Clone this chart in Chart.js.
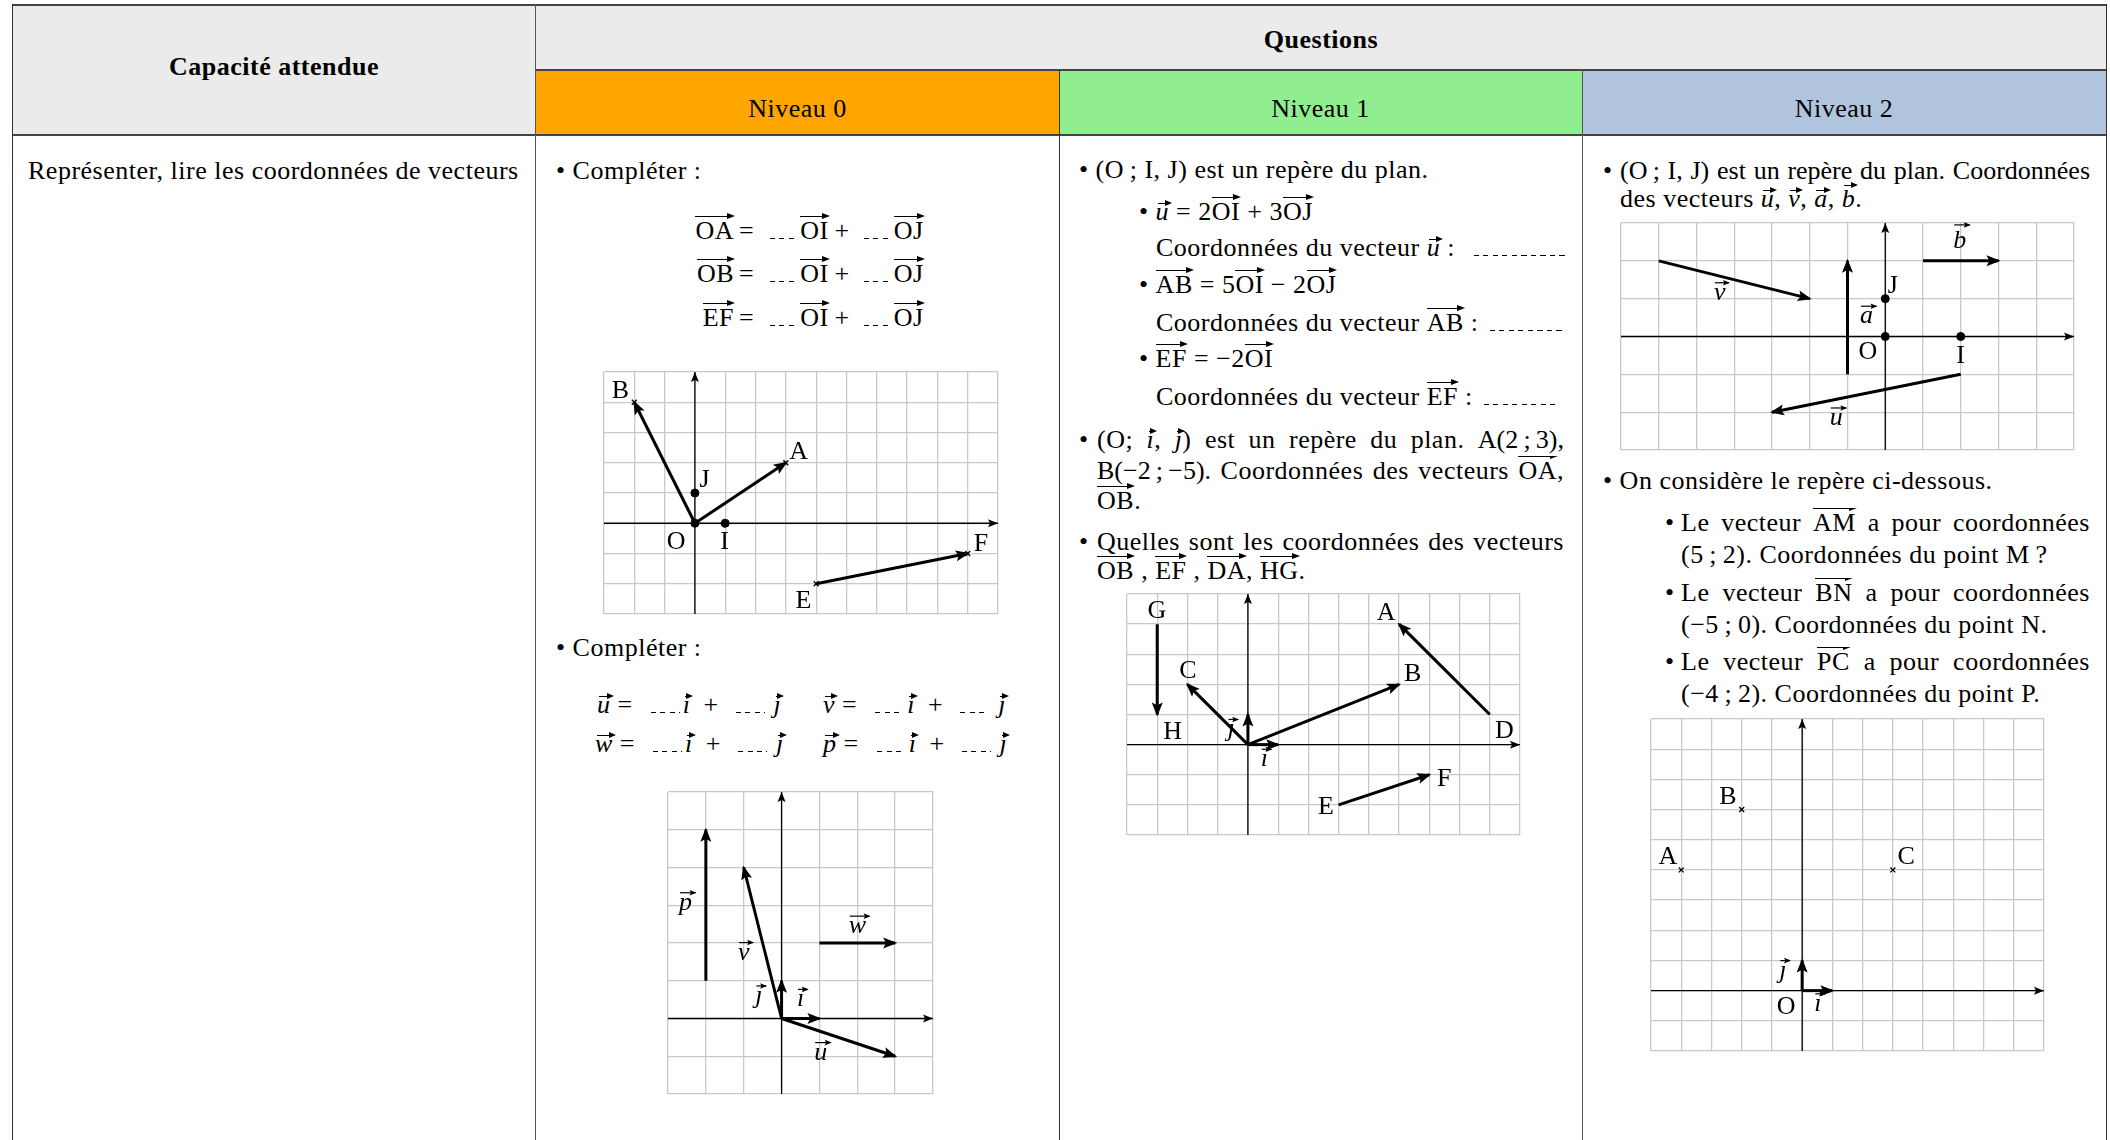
<!DOCTYPE html>
<html lang="fr">
<head>
<meta charset="utf-8">
<script src="https://cdn.jsdelivr.net/npm/chart.js@4.4.1/dist/chart.umd.min.js"></script>
<style>
body{margin:0;background:#fff;width:2110px;height:1140px;overflow:hidden;position:relative;font-family:"Liberation Serif",serif;font-size:26px;letter-spacing:0.5px;color:#000}
.box{position:absolute}
.ln{position:absolute;background:#444}
.t{position:absolute;white-space:nowrap;line-height:30px;height:30px}
.jus{text-align:justify;text-align-last:justify;white-space:normal;overflow:hidden}
.c{text-align:center}
.bold{font-weight:bold}
.nw{white-space:nowrap;letter-spacing:0}
.v{position:relative;display:inline-block;line-height:26px}
.v::before{content:"";position:absolute;left:0;right:2px;top:-2px;border-top:1.3px solid #000}
.v::after{content:"";position:absolute;right:-1px;top:-5px;border-left:8px solid #000;border-top:3.5px solid transparent;border-bottom:3.5px solid transparent}
.vl{position:relative;display:inline-block;line-height:26px;font-style:italic}
.vl::before{content:"";position:absolute;left:2px;right:0;top:4px;border-top:1.3px solid #000}
.vl::after{content:"";position:absolute;right:-3px;top:1px;border-left:7px solid #000;border-top:3px solid transparent;border-bottom:3px solid transparent}
.vl.tall::before{top:-1px}
.vl.tall::after{top:-4px}
.b{display:inline-block;height:1.3px;background:repeating-linear-gradient(90deg,#000 0 5px,transparent 5px 9.5px);vertical-align:0;margin:0 4px}
.eq .b{margin:0 2px 0 0}
.eq .eg{display:inline-block;margin:0 16px 0 5px}
.eq .pl{display:inline-block;margin:0 14px 0 6px}
.eq2 .b{margin:0 3px 0 0;width:29px}
.eq2 .b2{margin-right:9px}
.eq2 .eg{display:inline-block;margin:0 18px 0 7px}
.eq2 .pl{display:inline-block;margin:0 17px 0 13px}
.lhs{display:inline-block;width:42px;text-align:right}
canvas{position:absolute}
</style>
</head>
<body>

<!-- en-tete -->
<div class="box" style="left:12px;top:5px;width:524px;height:130px;background:#ebebeb"></div>
<div class="box" style="left:536px;top:5px;width:1570px;height:65px;background:#ebebeb"></div>
<div class="box" style="left:536px;top:70px;width:523px;height:65px;background:#ffa500"></div>
<div class="box" style="left:1059px;top:70px;width:523px;height:65px;background:#90ee90"></div>
<div class="box" style="left:1582px;top:70px;width:524px;height:65px;background:#b0c4de"></div>

<div class="ln" style="left:12px;top:4px;width:2095px;height:2px"></div>
<div class="ln" style="left:536px;top:69px;width:1570px;height:1.5px"></div>
<div class="ln" style="left:12px;top:134px;width:2095px;height:2px"></div>
<div class="ln" style="left:12px;top:4px;width:1px;height:1140px;background:#333"></div>
<div class="ln" style="left:535px;top:4px;width:1px;height:1140px;background:#555"></div>
<div class="ln" style="left:1059px;top:70px;width:1px;height:1070px;background:#333"></div>
<div class="ln" style="left:1582px;top:70px;width:1px;height:1070px;background:#555"></div>
<div class="ln" style="left:2106px;top:4px;width:1px;height:1140px;background:#333"></div>

<div class="t c bold" style="left:12px;width:524px;top:52px">Capacité attendue</div>
<div class="t c bold" style="left:536px;width:1570px;top:25px">Questions</div>
<div class="t c" style="left:536px;width:523px;top:94px">Niveau 0</div>
<div class="t c" style="left:1059px;width:523px;top:94px">Niveau 1</div>
<div class="t c" style="left:1582px;width:524px;top:94px">Niveau 2</div>

<!-- colonne 1 -->
<div class="t" style="left:28px;top:156px">Représenter, lire les coordonnées de vecteurs</div>

<!-- Niveau 0 -->
<div class="t" style="left:556px;top:156px">• Compléter :</div>
<div class="t eq" style="left:692px;top:216px"><span class="lhs"><span class="v">OA</span></span><span class="eg">=</span><span class="b" style="width:28px"></span><span class="v">OI</span><span class="pl">+</span><span class="b" style="width:28px"></span><span class="v">OJ</span></div>
<div class="t eq" style="left:692px;top:259px"><span class="lhs"><span class="v">OB</span></span><span class="eg">=</span><span class="b" style="width:28px"></span><span class="v">OI</span><span class="pl">+</span><span class="b" style="width:28px"></span><span class="v">OJ</span></div>
<div class="t eq" style="left:692px;top:303px"><span class="lhs"><span class="v">EF</span></span><span class="eg">=</span><span class="b" style="width:28px"></span><span class="v">OI</span><span class="pl">+</span><span class="b" style="width:28px"></span><span class="v">OJ</span></div>

<div class="t" style="left:556px;top:633px">• Compléter :</div>
<div class="t eq2" style="left:597px;top:690px"><span class="vl">u</span><span class="eg">=</span><span class="b"></span><span class="vl">ı</span><span class="pl">+</span><span class="b b2"></span><span class="vl">ȷ</span></div>
<div class="t eq2" style="left:823px;top:690px"><span class="vl">v</span><span class="eg">=</span><span class="b"></span><span class="vl">ı</span><span class="pl">+</span><span class="b b2"></span><span class="vl">ȷ</span></div>
<div class="t eq2" style="left:595px;top:729px"><span class="vl">w</span><span class="eg">=</span><span class="b"></span><span class="vl">ı</span><span class="pl">+</span><span class="b b2"></span><span class="vl">ȷ</span></div>
<div class="t eq2" style="left:823px;top:729px"><span class="vl">p</span><span class="eg">=</span><span class="b"></span><span class="vl">ı</span><span class="pl">+</span><span class="b b2"></span><span class="vl">ȷ</span></div>

<!-- Niveau 1 -->
<div class="t" style="left:1079px;top:155px">• (O&#8201;; I, J) est un repère du plan.</div>
<div class="t" style="left:1139px;top:197px">• <span class="vl">u</span> = 2<span class="v">OI</span> + 3<span class="v">OJ</span></div>
<div class="t" style="left:1156px;top:233px">Coordonnées du vecteur <span class="vl">u</span> : <span class="b" style="width:92px;margin-left:12px"></span></div>
<div class="t" style="left:1139px;top:270px">• <span class="v">AB</span> = 5<span class="v">OI</span> − 2<span class="v">OJ</span></div>
<div class="t" style="left:1156px;top:308px">Coordonnées du vecteur <span class="v">AB</span> : <span class="b" style="width:72px"></span></div>
<div class="t" style="left:1139px;top:344px">• <span class="v">EF</span> = −2<span class="v">OI</span></div>
<div class="t" style="left:1156px;top:382px">Coordonnées du vecteur <span class="v">EF</span> : <span class="b" style="width:74px"></span></div>
<div class="t" style="left:1079px;top:425px">•</div>
<div class="t jus" style="left:1097px;width:467px;top:425px">(O; <span class="vl">ı</span>, <span class="vl">ȷ</span>) est un repère du plan. <span class="nw">A(2&#8201;;&#8201;3),</span></div>
<div class="t jus" style="left:1097px;width:467px;top:456px"><span class="nw">B(−2&#8201;;&#8201;−5).</span> Coordonnées des vecteurs <span class="v">OA</span>,</div>
<div class="t" style="left:1097px;top:486px"><span class="v">OB</span>.</div>
<div class="t" style="left:1079px;top:527px">•</div>
<div class="t jus" style="left:1097px;width:467px;top:527px">Quelles sont les coordonnées des vecteurs</div>
<div class="t" style="left:1097px;top:556px"><span class="v">OB</span> , <span class="v">EF</span> , <span class="v">DA</span>, <span class="v">HG</span>.</div>

<!-- Niveau 2 -->
<div class="t" style="left:1603px;top:156px">•</div>
<div class="t jus" style="left:1620px;width:470px;top:156px;letter-spacing:0;word-spacing:-1px">(O&#8201;; I, J) est un repère du plan. Coordonnées</div>
<div class="t" style="left:1620px;top:184px">des vecteurs <span class="vl">u</span>, <span class="vl">v</span>, <span class="vl">a</span>, <span class="vl tall">b</span>.</div>
<div class="t" style="left:1603px;top:466px">• On considère le repère ci-dessous.</div>
<div class="t" style="left:1665px;top:508px">•</div>
<div class="t jus" style="left:1681px;width:409px;top:508px">Le vecteur <span class="v">AM</span> a pour coordonnées</div>
<div class="t" style="left:1681px;top:540px">(5&#8201;;&#8201;2). Coordonnées du point M&#8201;?</div>
<div class="t" style="left:1665px;top:578px">•</div>
<div class="t jus" style="left:1681px;width:409px;top:578px">Le vecteur <span class="v">BN</span> a pour coordonnées</div>
<div class="t" style="left:1681px;top:610px">(−5&#8201;;&#8201;0). Coordonnées du point N.</div>
<div class="t" style="left:1665px;top:647px">•</div>
<div class="t jus" style="left:1681px;width:409px;top:647px">Le vecteur <span class="v">PC</span> a pour coordonnées</div>
<div class="t" style="left:1681px;top:679px">(−4&#8201;;&#8201;2). Coordonnées du point P.</div>

<canvas id="r1" width="406" height="254" style="left:598px;top:366px"></canvas>
<canvas id="r2" width="277" height="314" style="left:662px;top:786px"></canvas>
<canvas id="r3" width="405" height="253" style="left:1121px;top:588px"></canvas>
<canvas id="r4" width="465" height="239" style="left:1615px;top:217px"></canvas>
<canvas id="r5" width="405" height="344" style="left:1645px;top:713px"></canvas>

<script>
// repere 1 (Niveau 0, en haut) : [xmin, xmax, ymin, ymax]
const r1Range = [-3, 10, -3, 5];
const r1Vectors = [[0, 0, 3, 2], [0, 0, -2, 4], [4, -2, 9, -1]];
const r1Dots = [[0, 0], [1, 0], [0, 1]];
const r1Crosses = [[3, 2], [-2, 4], [4, -2], [9, -1]];
const r1Names = ["B", "A", "J", "O", "I", "F", "E"];
const r1NameAt = [[-2.45, 4.44], [3.43, 2.43], [0.33, 1.49], [-0.61, -0.55], [0.99, -0.55], [9.45, -0.61], [3.59, -2.49]];

// repere 2 (Niveau 0, en bas)
const r2Range = [-3, 4, -2, 6];
const r2Vectors = [[-2, 1, -2, 5], [0, 0, -1, 4], [1, 2, 3, 2], [0, 0, 1, 0], [0, 0, 0, 1], [0, 0, 3, -1]];
const r2Vecs = ["p", "v", "w", "ȷ", "ı", "u"];
const r2VecAt = [[-2.53, 3.04], [-0.99, 1.72], [2.01, 2.42], [-0.59, 0.57], [0.51, 0.48], [1.04, -0.93]];

// repere 3 (Niveau 1)
const r3Range = [-4, 9, -3, 5];
const r3Vectors = [[-3, 4, -3, 1], [0, 0, -2, 2], [0, 0, 5, 2], [8, 1, 5, 4], [3, -2, 6, -1], [0, 0, 1, 0], [0, 0, 0, 1]];
const r3Names = ["G", "A", "C", "B", "H", "D", "E", "F"];
const r3NameAt = [[-3.0, 4.5], [4.58, 4.44], [-1.98, 2.51], [5.46, 2.4], [-2.48, 0.47], [8.49, 0.53], [2.59, -2.01], [6.5, -1.07]];
const r3Vecs = ["ȷ", "ı"];
const r3VecAt = [[-0.55, 0.47], [0.55, -0.52]];

// repere 4 (Niveau 2, en haut)
const r4Range = [-7, 5, -3, 3];
const r4Vectors = [[-6, 2, -2, 1], [-1, -1, -1, 2], [1, 2, 3, 2], [2, -1, -3, -2]];
const r4Dots = [[0, 0], [2, 0], [0, 1]];
const r4Names = ["J", "O", "I"];
const r4NameAt = [[0.21, 1.39], [-0.45, -0.37], [2.0, -0.46]];
const r4Vecs = ["v", "a", "b", "u"];
const r4VecAt = [[-4.38, 1.13], [-0.49, 0.51], [1.98, 2.5], [-1.29, -2.18]];

// repere 5 (Niveau 2, en bas)
const r5Range = [-5, 8, -2, 9];
const r5Vectors = [[0, 0, 1, 0], [0, 0, 0, 1]];
const r5Crosses = [[-4, 4], [-2, 6], [3, 4]];
const r5Names = ["A", "B", "C", "O"];
const r5NameAt = [[-4.43, 4.49], [-2.45, 6.47], [3.45, 4.49], [-0.52, -0.47]];
const r5Vecs = ["ȷ", "ı"];
const r5VecAt = [[-0.63, 0.63], [0.53, -0.47]];


function pointe(ctx, x0, y0, x1, y1, len, half, ext) {
	var a = Math.atan2(y1 - y0, x1 - x0);
	var c = Math.cos(a), s = Math.sin(a);
	var tx = x1 + c * ext, ty = y1 + s * ext;
	ctx.beginPath();
	ctx.moveTo(tx, ty);
	ctx.lineTo(tx - len * c + half * s, ty - len * s - half * c);
	ctx.lineTo(tx - len * c * 0.8, ty - len * s * 0.8);
	ctx.lineTo(tx - len * c - half * s, ty - len * s + half * c);
	ctx.closePath();
	ctx.fill();
}

// fleches au bout des segments
const flechesPlugin = {
	id: 'fleches',
	afterDatasetsDraw(chart) {
		const ctx = chart.ctx;
		ctx.save();
		ctx.fillStyle = '#000';
		chart.data.datasets.forEach(function(ds, i) {
			if (!ds.head) return;
			const pts = chart.getDatasetMeta(i).data;
			const a = pts[0], b = pts[1];
			pointe(ctx, a.x, a.y, b.x, b.y, ds.head[0], ds.head[1], ds.head[2]);
		});
		ctx.restore();
	}
};

// noms des points et des vecteurs
const nomsPlugin = {
	id: 'noms',
	afterDatasetsDraw(chart, args, opts) {
		const ctx = chart.ctx, xs = chart.scales.x, ys = chart.scales.y;
		ctx.save();
		ctx.fillStyle = '#000';
		ctx.strokeStyle = '#000';
		ctx.textAlign = 'center';
		ctx.textBaseline = 'alphabetic';
		ctx.font = '26px "Liberation Serif"';
		(opts.names || []).forEach(function(n, i) {
			const px = xs.getPixelForValue(opts.nameAt[i][0]);
			const py = ys.getPixelForValue(opts.nameAt[i][1]);
			ctx.fillText(n, px, py + 9);
		});
		ctx.font = 'italic 26px "Liberation Serif"';
		(opts.vecs || []).forEach(function(n, i) {
			const px = xs.getPixelForValue(opts.vecAt[i][0]);
			const py = ys.getPixelForValue(opts.vecAt[i][1]);
			const w = ctx.measureText(n).width;
			ctx.fillText(n, px, py + 6);
			const ay = py + 6 - (n === 'b' ? 23 : 17);
			ctx.lineWidth = 1.2;
			ctx.beginPath();
			ctx.moveTo(px - w / 2 + 1, ay);
			ctx.lineTo(px + w / 2 + 3, ay);
			ctx.stroke();
			pointe(ctx, px - w / 2, ay, px + w / 2 + 4, ay, 7, 2.8, 0);
		});
		ctx.restore();
	}
};

function repere(id, range, vectors, dots, crosses, names, nameAt, vecs, vecAt) {
	var datasets = [];
	// axes
	datasets.push({ data: [{ x: range[0], y: 0 }, { x: range[1], y: 0 }], showLine: true, borderColor: '#000', borderWidth: 1.3, pointRadius: 0, head: [10, 4, 0] });
	datasets.push({ data: [{ x: 0, y: range[2] }, { x: 0, y: range[3] }], showLine: true, borderColor: '#000', borderWidth: 1.3, pointRadius: 0, head: [10, 4, 0] });
	for (var i = 0; i < vectors.length; i++) {
		var v = vectors[i];
		datasets.push({ data: [{ x: v[0], y: v[1] }, { x: v[2], y: v[3] }], showLine: true, borderColor: '#000', borderWidth: 3, pointRadius: 0, head: [14, 5.5, 2] });
	}
	if (dots.length) {
		datasets.push({ data: dots.map(function(d) { return { x: d[0], y: d[1] }; }), showLine: false, pointRadius: 4, backgroundColor: '#000', borderColor: '#000' });
	}
	if (crosses.length) {
		datasets.push({ data: crosses.map(function(d) { return { x: d[0], y: d[1] }; }), showLine: false, pointStyle: 'crossRot', pointRadius: 3.5, borderWidth: 1.3, borderColor: '#000' });
	}
	var axe = function(min, max) {
		return {
			type: 'linear', min: min, max: max,
			ticks: { stepSize: 1, display: false },
			grid: { color: '#c8c8c8', lineWidth: 1.3, drawTicks: false },
			border: { display: false }
		};
	};
	return new Chart(document.getElementById(id), {
		type: 'scatter',
		data: { datasets: datasets },
		options: {
			responsive: false,
			devicePixelRatio: 1,
			animation: false,
			events: [],
			layout: { padding: 6 },
			scales: { x: axe(range[0], range[1]), y: axe(range[2], range[3]) },
			plugins: {
				legend: { display: false },
				tooltip: { enabled: false },
				noms: { names: names, nameAt: nameAt, vecs: vecs, vecAt: vecAt }
			}
		},
		plugins: [flechesPlugin, nomsPlugin]
	});
}

repere('r1', r1Range, r1Vectors, r1Dots, r1Crosses, r1Names, r1NameAt, [], []);
repere('r2', r2Range, r2Vectors, [], [], [], [], r2Vecs, r2VecAt);
repere('r3', r3Range, r3Vectors, [], [], r3Names, r3NameAt, r3Vecs, r3VecAt);
repere('r4', r4Range, r4Vectors, r4Dots, [], r4Names, r4NameAt, r4Vecs, r4VecAt);
repere('r5', r5Range, r5Vectors, [], r5Crosses, r5Names, r5NameAt, r5Vecs, r5VecAt);
</script>
</body>
</html>
